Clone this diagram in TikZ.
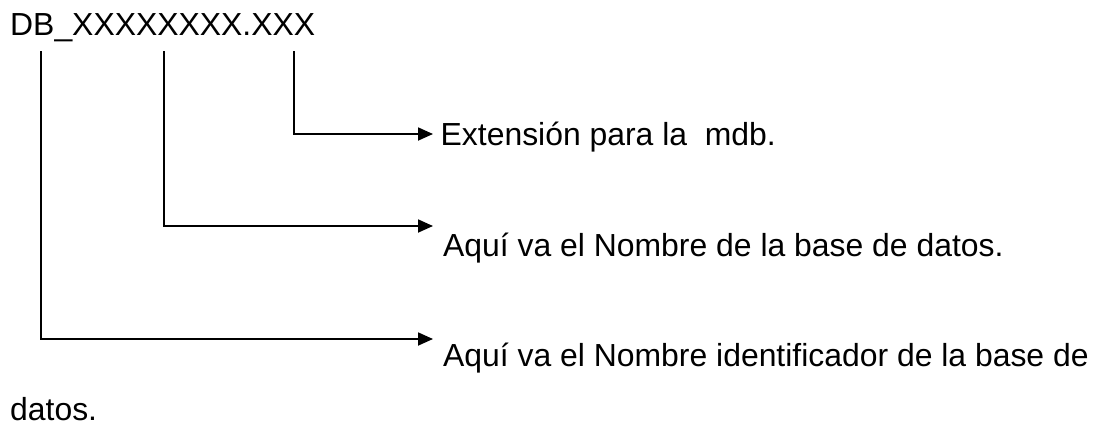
\documentclass[tikz,border=0pt]{standalone}
\usepackage{fontspec}
\setmainfont{Liberation Sans}
\usetikzlibrary{arrows.meta}
\begin{document}
\begin{tikzpicture}[x=1pt,y=-1pt,
  lbl/.style={anchor=base west,inner sep=0pt,font=\fontsize{31.9}{38}\selectfont},
  conn/.style={line width=1.8pt,-{Triangle[length=15pt,width=13pt]}}]
\useasboundingbox[fill=white] (0,0) rectangle (1097,426);
\node[lbl] (title) at (10,35) {DB\_XXXXXXXX.XXX};
\node[lbl] (ext) at (440.5,145) {Extensión para la\ \ mdb.};
\node[lbl] (nom) at (443,256) {Aquí va el Nombre de la base de datos.};
\node[lbl] (ident) at (443,366) {Aquí va el Nombre identificador de la base de};
\node[lbl] (ident2) at (10,420) {datos.};
\coordinate (s1) at (41,51);
\coordinate (s2) at (164,51);
\coordinate (s3) at (294,51);
\coordinate (t3) at (433,134);
\coordinate (t2) at (433,226);
\coordinate (t1) at (433,339);
\draw[conn] (s3) |- (t3);
\draw[conn] (s2) |- (t2);
\draw[conn] (s1) |- (t1);
\end{tikzpicture}
\end{document}
